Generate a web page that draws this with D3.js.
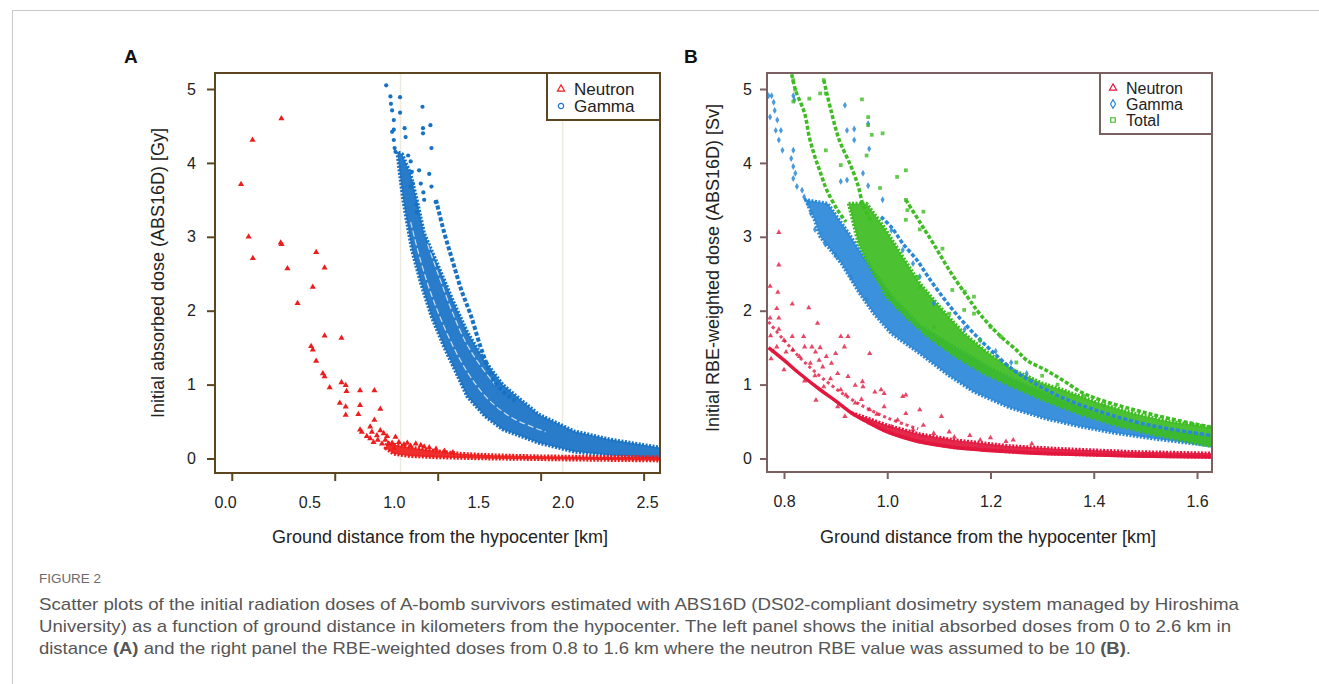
<!DOCTYPE html>
<html>
<head>
<meta charset="utf-8">
<script src="https://cdn.jsdelivr.net/npm/d3@7"></script>
<style>
  body { margin: 0; background: #fff; }
  svg { display: block; }
  text { font-family: "Liberation Sans", Arial, sans-serif; }
</style>
</head>
<body>
<svg id="fig" width="1319" height="684"></svg>
<script>
// ---------- panel A data (ground distance km, dose Gy) ----------
var aXLabels = [0, 0.5, 1.0, 1.5, 2.0, 2.5];
var aXTickMarks = [0.04, 0.65, 1.26, 1.87, 2.48];   // the figure's tick marks sit off its labels
var aGrid = [1.04, 2.0];
var yTicks = [0, 1, 2, 3, 4, 5];

var aNeutronPts = [
  [0.095,3.71],[0.163,4.31],[0.334,4.6],[0.14,3.0],[0.165,2.71],[0.33,2.92],[0.335,2.9],
  [0.37,2.57],[0.43,2.1],[0.52,2.32],[0.54,2.79],[0.59,2.58],[0.51,1.52],[0.52,1.47],
  [0.54,1.32],[0.59,1.66],[0.69,1.63],[0.58,1.15],[0.59,1.11],[0.62,0.96],[0.69,1.03],
  [0.715,0.99],[0.72,0.91],[0.80,0.92],[0.885,0.92],[0.68,0.75],[0.715,0.70],[0.80,0.72],
  [0.92,0.67],[0.715,0.59],[0.79,0.60],[0.885,0.52],[0.80,0.39],[0.81,0.36],[0.86,0.43],
  [0.86,0.27],[0.905,0.25],[0.94,0.34],[0.95,0.25],[0.99,0.21],[1.01,0.29],[1.0,0.14],
  [0.87,0.36],[0.9,0.31],[0.92,0.38],[0.96,0.3],[0.97,0.2],[1.03,0.22],[1.06,0.19],
  [1.1,0.17],[1.13,0.2],[1.18,0.16],[1.25,0.13],[0.84,0.3],[0.88,0.22],[0.93,0.2],
  [1.08,0.21],[1.16,0.18],[1.21,0.15],[1.3,0.1],[1.35,0.08]
];
var aNeutronBand = [
  [0.95,0.14],[1.0,0.06],[1.1,0.03],[1.25,0.015],[1.5,0.0],[2.0,-0.015],[2.6,-0.03],
  [2.6,0.02],[2.2,0.025],[1.9,0.03],[1.6,0.045],[1.4,0.065],[1.3,0.09],[1.2,0.12],
  [1.1,0.15],[1.0,0.19],[0.96,0.22]
];
var aGammaPts = [
  [0.955,5.05],[0.98,4.9],[1.037,4.89],[0.983,4.8],[0.99,4.71],[1.037,4.68],[1.0,4.58],
  [1.064,4.47],[1.0,4.45],[1.07,4.35],[1.0,4.31],[1.17,4.76],[1.217,4.51],[1.173,4.47],
  [1.173,4.4],[1.223,4.2],[1.21,3.85],[1.16,3.72],[1.223,3.68],[1.248,3.47],[1.134,3.44],
  [1.137,3.33],[1.085,4.1],[1.1,4.02],[1.107,3.88],[1.113,3.72],[1.1,3.68],[1.005,4.2],
  [1.01,4.15],[0.99,4.42],[1.175,3.6],[1.15,3.9],[1.18,3.5]
];
var aGammaBand = [
  [1.02,4.15],[1.035,3.85],[1.055,3.5],[1.075,3.23],[1.107,2.82],[1.16,2.37],[1.223,1.92],
  [1.297,1.51],[1.371,1.15],[1.434,0.84],[1.54,0.57],[1.646,0.39],[1.858,0.21],[2.07,0.09],
  [2.28,0.04],[2.6,0.0],
  [2.6,0.14],[2.28,0.26],[2.07,0.37],[1.858,0.6],[1.75,0.8],[1.646,1.0],[1.54,1.32],
  [1.434,1.72],[1.35,2.14],[1.265,2.6],[1.18,3.05],[1.137,3.5],[1.1,3.85],[1.05,4.12]
];
var aGammaStrand = [
  [1.25,3.5],[1.297,3.07],[1.35,2.66],[1.40,2.28],[1.456,1.94],[1.52,1.47],[1.594,1.06],
  [1.65,0.9],[1.72,0.78]
];
var aGammaGaps = [
  [[1.1,3.2],[1.15,2.75],[1.21,2.3],[1.28,1.88],[1.36,1.48],[1.45,1.12],[1.56,0.8],[1.7,0.55],[1.9,0.36]],
  [[1.2,2.9],[1.27,2.45],[1.34,2.02],[1.42,1.6],[1.5,1.3],[1.6,1.0]]
];

// ---------- panel B data (ground distance km, RBE-weighted dose Sv) ----------
var bXLabels = [0.8, 1.0, 1.2, 1.4, 1.6];

var bNeutronPts = [
  [0.79,3.06],[0.79,2.62],[0.773,2.33],[0.788,2.25],[0.786,2.03],[0.816,2.09],[0.848,2.04],
  [0.79,1.9],[0.773,1.9],[0.774,1.66],[0.786,1.51],[0.804,1.44],[0.816,1.65],[0.817,1.47],
  [0.838,1.65],[0.865,1.83],[0.84,1.51],[0.854,1.51],[0.861,1.44],[0.851,1.29],[0.868,1.33],
  [0.882,1.38],[0.875,1.24],[0.892,1.29],[0.91,1.65],[0.924,1.65],[0.917,1.51],[0.904,1.15],
  [0.924,1.11],[0.938,0.99],[0.952,1.04],[0.966,1.42],[0.976,0.9],[0.994,0.88],[1.036,0.86],
  [0.877,0.97],[0.91,0.93],[0.953,0.97],[0.988,0.93],[1.03,0.84],[0.862,0.79],[0.904,0.70],
  [0.938,0.75],[0.966,0.66],[0.994,0.70],[1.036,0.61],[1.063,0.66],[1.105,0.57],[0.918,0.57],
  [0.966,0.48],[1.008,0.43],[1.05,0.39],[1.09,0.34],[1.13,0.29],[1.18,0.25],[1.23,0.23],
  [1.244,0.25],[0.78,1.45],[0.775,1.35],[0.8,1.6],[0.83,1.38],[0.86,1.12],[0.89,1.08],
  [0.92,0.86],[0.95,0.8],[0.98,0.6],[1.02,0.52],[1.07,0.45],[1.12,0.36],[1.16,0.31],
  [1.2,0.28],[1.28,0.2],[0.79,1.75],[0.8,1.2],[0.84,1.05],[0.87,1.5],[0.9,1.42]
];
var bNeutronSolid = [
  [0.77,1.5],[0.80,1.33],[0.83,1.15],[0.87,0.93],[0.9,0.78],[0.93,0.62],[0.96,0.5],
  [1.0,0.36],[1.06,0.23],[1.13,0.15],[1.24,0.09],[1.34,0.06],[1.48,0.035],[1.63,0.02]
];
var bNeutronMid = [
  [0.77,1.85],[0.80,1.6],[0.84,1.3],[0.89,1.0],[0.94,0.76],[1.0,0.55],[1.06,0.4]
];
var bNeutronBand = [
  [0.93,0.62],[0.96,0.5],[1.0,0.36],[1.06,0.23],[1.13,0.15],[1.24,0.09],[1.34,0.06],
  [1.48,0.035],[1.63,0.02],
  [1.63,0.07],[1.48,0.09],[1.34,0.13],[1.236,0.17],[1.13,0.25],[1.063,0.33],[1.0,0.45],
  [0.96,0.55]
];
var bGammaPts = [
  [0.77,4.91],[0.776,4.91],[0.78,4.82],[0.782,4.71],[0.773,4.62],[0.787,4.58],[0.784,4.44],
  [0.794,4.44],[0.79,4.31],[0.797,4.17],[0.818,4.17],[0.814,4.06],[0.818,3.95],[0.822,3.86],
  [0.818,3.79],[0.825,3.68],[0.835,3.63],[0.839,3.54],[0.846,3.45],[0.852,3.32],[0.818,4.91],
  [0.82,4.85],[0.918,4.78],[0.922,4.44],[0.936,4.46],[0.936,4.31],[0.963,4.53],[0.965,4.19],
  [0.953,3.86],[0.963,3.69],[0.991,3.5],[0.91,3.75],[0.922,3.77],[1.008,3.09],[1.03,2.82],
  [1.05,2.64],[1.063,2.46],[1.09,2.1],[1.15,1.75],[1.18,1.6],[1.21,1.45],[1.24,1.3],
  [1.27,1.15],[0.86,3.1],[0.88,2.9],[0.9,2.75],[0.93,2.45],[0.96,2.15]
];
var bGammaBand = [
  [0.842,3.5],[0.859,3.23],[0.87,3.0],[0.911,2.64],[0.946,2.24],[0.974,1.96],
  [1.008,1.69],[1.063,1.42],[1.12,1.12],[1.168,0.9],[1.236,0.69],[1.306,0.54],[1.375,0.43],
  [1.444,0.34],[1.513,0.27],[1.63,0.17],
  [1.63,0.3],[1.547,0.38],[1.478,0.47],[1.41,0.6],[1.34,0.78],[1.27,0.99],[1.2,1.22],
  [1.133,1.5],[1.063,1.8],[1.008,2.2],[0.966,2.6],[0.925,3.05],[0.885,3.45]
];
var bGammaStrand = [
  [0.988,3.27],[1.008,3.13],[1.03,2.91],[1.058,2.68],[1.079,2.46],[1.107,2.19],[1.133,1.96],
  [1.168,1.69],[1.2,1.47],[1.244,1.2],[1.285,1.02],[1.34,0.82],[1.41,0.64],[1.478,0.5],
  [1.547,0.4],[1.63,0.31]
];
var bTotalPts = [
  [0.818,5.12],[0.822,4.99],[0.849,4.87],[0.818,4.83],[0.877,5.12],[0.87,4.94],[0.881,4.94],
  [0.951,4.86],[0.963,4.62],[0.963,4.51],[0.991,4.4],[1.019,3.81],[1.036,3.9],[1.036,3.5],
  [1.039,3.36],[1.07,3.34],[0.986,3.66],[0.91,3.97],[0.881,4.17],[1.058,2.46],[1.063,2.32],
  [1.15,2.26],[1.149,2.01],[1.168,1.96],[1.12,1.96],[1.09,1.78],[1.2,1.78],[1.22,1.65],
  [1.18,1.6],[1.168,2.19],[1.126,2.28],[1.107,2.84],[1.063,3.1],[1.036,3.23],[0.97,4.38],
  [0.96,4.1],[1.25,1.3],[1.3,1.12],[1.33,1.0],[1.38,0.85],[1.42,0.72]
];
var bTotalBand = [
  [0.925,3.45],[0.944,2.91],[0.966,2.6],[0.999,2.19],[1.036,1.92],[1.079,1.65],
  [1.133,1.38],[1.188,1.15],[1.244,0.97],[1.306,0.78],[1.375,0.6],[1.444,0.45],[1.513,0.33],
  [1.63,0.16],
  [1.63,0.42],[1.547,0.5],[1.478,0.61],[1.41,0.75],[1.34,0.93],[1.3,1.02],[1.244,1.2],
  [1.197,1.42],[1.149,1.69],[1.107,2.01],[1.063,2.37],[1.03,2.73],[0.994,3.13],[0.96,3.45]
];
var bTotalStrands = [
  [[0.815,5.2],[0.822,4.99],[0.84,4.67],[0.849,4.35],[0.859,4.1],[0.87,3.88],[0.883,3.63],
   [0.904,3.36],[0.92,3.2]],
  [[0.877,5.12],[0.891,4.71],[0.907,4.31],[0.93,3.95],[0.944,3.68],[0.954,3.41],[0.97,3.2]],
  [[1.036,3.5],[1.063,3.2],[1.09,2.9],[1.12,2.55],[1.154,2.2],[1.18,1.95],[1.22,1.65],
   [1.25,1.47],[1.27,1.33],[1.306,1.2],[1.34,1.06],[1.375,0.9],[1.41,0.8],[1.478,0.66],
   [1.547,0.54],[1.63,0.42]]
];

var captionLines = [
  "Scatter plots of the initial radiation doses of A-bomb survivors estimated with ABS16D (DS02-compliant dosimetry system managed by Hiroshima",
  "University) as a function of ground distance in kilometers from the hypocenter. The left panel shows the initial absorbed doses from 0 to 2.6 km in"
];

// ---------- drawing ----------
var svg = d3.select("#fig");
var TEXT = "#222";

// top and left rules of the figure box
svg.append("line").attr("x1", 12.5).attr("x2", 1319).attr("y1", 10.5).attr("y2", 10.5)
   .attr("stroke", "#c8c8c8");
svg.append("line").attr("x1", 12.5).attr("x2", 12.5).attr("y1", 10.5).attr("y2", 684)
   .attr("stroke", "#c8c8c8");

function makePanel(p) {
    var f = p.frame;
    var x = d3.scaleLinear().domain(p.xDomain).range(p.xRange);
    var y = d3.scaleLinear().domain([0, 5]).range([458.5, 89]);
    var g = svg.append("g");
    g.append("clipPath").attr("id", p.id + "clip").append("rect")
        .attr("x", f.left).attr("y", f.top)
        .attr("width", f.right - f.left).attr("height", f.bottom - f.top);
    var plot = g.append("g").attr("clip-path", "url(#" + p.id + "clip)");

    var ring = d3.line().curve(d3.curveLinearClosed)
        .x(function(d) { return x(d[0]); }).y(function(d) { return y(d[1]); });
    var path = d3.line().curve(d3.curveCatmullRom.alpha(0.5))
        .x(function(d) { return x(d[0]); }).y(function(d) { return y(d[1]); });

    return {
        g: g, plot: plot, x: x, y: y, frame: f, color: p.color,
        band: function(data, color) {
            // dense part of a series: filled, with a broken edge so it reads as dots
            plot.append("path").attr("d", ring(data))
                .attr("fill", color).attr("fill-opacity", 0.92)
                .attr("stroke", color).attr("stroke-width", 3.5)
                .attr("stroke-dasharray", "2 1.5").attr("stroke-linejoin", "round");
        },
        strand: function(data, color, width, dash, opacity) {
            plot.append("path").attr("d", path(data))
                .attr("fill", "none").attr("stroke", color).attr("stroke-opacity", opacity || 1)
                .attr("stroke-width", width).attr("stroke-dasharray", dash || null);
        },
        points: function(data, color, type, size, opacity) {
            plot.append("g").selectAll("path").data(data).join("path")
                .attr("transform", function(d) { return "translate(" + x(d[0]) + "," + y(d[1]) + ")"; })
                .attr("d", d3.symbol().type(type).size(size))
                .attr("fill", color).attr("fill-opacity", opacity || 1);
        }
    };
}

function finishPanel(P, opt) {
    var f = P.frame, g = P.g;
    if (opt.grid) {
        P.plot.insert("g", ":first-child").selectAll("line").data(opt.grid).join("line")
            .attr("x1", function(d) { return P.x(d); }).attr("x2", function(d) { return P.x(d); })
            .attr("y1", f.top).attr("y2", f.bottom)
            .attr("stroke", "#ecebdd").attr("stroke-width", 1.5);
    }
    g.append("rect").attr("x", f.left).attr("y", f.top)
        .attr("width", f.right - f.left).attr("height", f.bottom - f.top)
        .attr("fill", "none").attr("stroke", P.color).attr("stroke-width", 2);

    var xTicks = g.append("g").attr("transform", "translate(0," + f.bottom + ")")
        .call(d3.axisBottom(P.x).tickValues(opt.xTickMarks).tickSize(opt.tick).tickFormat(""));
    var xLab = g.append("g").attr("transform", "translate(0," + f.bottom + ")")
        .call(d3.axisBottom(P.x).tickValues(opt.xLabels).tickSize(0).tickPadding(24)
              .tickFormat(d3.format(".1f")));
    var yAx = g.append("g").attr("transform", "translate(" + f.left + ",0)")
        .call(d3.axisLeft(P.y).tickValues(yTicks).tickSize(opt.tick).tickPadding(opt.yPad)
              .tickFormat(d3.format("d")));
    [xTicks, xLab, yAx].forEach(function(a) {
        a.select(".domain").remove();
        a.selectAll(".tick line").attr("stroke", P.color).attr("stroke-width", 2);
        a.selectAll("text").attr("font-size", 16).attr("fill", TEXT)
            .attr("font-family", "Liberation Sans, Arial, sans-serif");
    });
    xLab.selectAll(".tick line").remove();

    g.append("text").attr("x", opt.titleX).attr("y", 543).attr("text-anchor", "middle")
        .attr("font-size", 18).attr("fill", TEXT).text(opt.xTitle);
    g.append("text").attr("transform", "translate(" + opt.yTitlePos[0] + "," + opt.yTitlePos[1] + ") rotate(-90)")
        .attr("text-anchor", "middle").attr("font-size", 18).attr("fill", TEXT).text(opt.yTitle);
    g.append("text").attr("x", opt.letterX).attr("y", 63).attr("font-size", 19)
        .attr("font-weight", "bold").attr("fill", "#111").text(opt.letter);

    // legend box hugging the top-right corner of the frame
    var L = opt.legend;
    g.append("rect").attr("x", L.left).attr("y", f.top)
        .attr("width", f.right - L.left).attr("height", L.bottom - f.top)
        .attr("fill", "#fff").attr("stroke", P.color).attr("stroke-width", 2);
    var items = g.append("g").selectAll("g").data(L.items).join("g")
        .attr("transform", function(d, i) { return "translate(" + L.symX + "," + (L.y0 + i * L.dy) + ")"; });
    items.append("path")
        .attr("d", function(d) { return d3.symbol().type(d.type).size(d.size)(); })
        .attr("fill", "none").attr("stroke", function(d) { return d.color; }).attr("stroke-width", 1.2);
    items.append("text").attr("x", L.textX - L.symX).attr("y", 6)
        .attr("font-size", L.font).attr("fill", TEXT).text(function(d) { return d.name; });
}

// ----- panel A -----
var A = makePanel({ id: "a", frame: {left: 215, right: 660, top: 73, bottom: 473},
    xDomain: [0, 2.5], xRange: [225, 647], color: "#5d4520" });
A.band(aGammaBand, "#1771c4");
aGammaGaps.forEach(function(s) { A.strand(s, "#ffffff", 1.2, "6 3", 0.75); });
A.strand(aGammaStrand, "#1771c4", 4, "4 2");
A.points(aGammaPts, "#1771c4", d3.symbolCircle, 14);
A.band(aNeutronBand, "#ee1c1c");
A.points(aNeutronPts, "#ee1c1c", d3.symbolTriangle, 16);
finishPanel(A, {
    grid: aGrid, xTickMarks: aXTickMarks, xLabels: aXLabels, tick: 8, yPad: 11,
    xTitle: "Ground distance from the hypocenter [km]", titleX: 440,
    yTitle: "Initial absorbed dose (ABS16D) [Gy]", yTitlePos: [164, 273],
    letter: "A", letterX: 124,
    legend: { left: 547, bottom: 120, symX: 561, textX: 574, y0: 89, dy: 17, font: 17,
        items: [ {name: "Neutron", color: "#ee1c1c", type: d3.symbolTriangle, size: 22},
                 {name: "Gamma", color: "#1771c4", type: d3.symbolCircle, size: 22} ] }
});

// ----- panel B -----
var B = makePanel({ id: "b", frame: {left: 767, right: 1212, top: 73, bottom: 472},
    xDomain: [0.8, 1.6], xRange: [784, 1197], color: "#7a6060" });
B.band(bNeutronBand, "#e3173e");
B.strand(bNeutronSolid, "#e3173e", 3.5);
B.strand(bNeutronMid, "#e3173e", 3, "3 3", 0.8);
B.points(bNeutronPts, "#e3173e", d3.symbolTriangle, 12, 0.8);
B.band(bGammaBand, "#2a88d8");
B.band(bTotalBand, "#3dbd22");
B.strand(bGammaStrand, "#2a88d8", 3.5, "4 2");
B.points(bGammaPts, "#2a88d8", d3.symbolDiamond, 14, 0.85);
bTotalStrands.forEach(function(s) { B.strand(s, "#3dbd22", 3.5, "4 2"); });
B.points(bTotalPts, "#3dbd22", d3.symbolSquare, 14, 0.8);
finishPanel(B, {
    xTickMarks: bXLabels, xLabels: bXLabels, tick: 7, yPad: 8,
    xTitle: "Ground distance from the hypocenter [km]", titleX: 988,
    yTitle: "Initial RBE-weighted dose (ABS16D) [Sv]", yTitlePos: [719, 268],
    letter: "B", letterX: 684,
    legend: { left: 1100, bottom: 134, symX: 1113, textX: 1126, y0: 88, dy: 16, font: 16,
        items: [ {name: "Neutron", color: "#e3173e", type: d3.symbolTriangle, size: 22},
                 {name: "Gamma", color: "#2a88d8", type: d3.symbolDiamond, size: 22},
                 {name: "Total", color: "#3dbd22", type: d3.symbolSquare, size: 20} ] }
});

// ----- caption -----
var cap = svg.append("g").attr("font-family", "Open Sans, sans-serif").attr("fill", "#555");
cap.append("text").attr("x", 39).attr("y", 583).attr("font-size", 13).attr("fill", "#6b6b6b")
    .attr("textLength", 62).attr("lengthAdjust", "spacingAndGlyphs").text("FIGURE 2");
captionLines.forEach(function(t, i) {
    cap.append("text").attr("x", 39).attr("y", 610 + i * 22).attr("font-size", 17)
        .attr("textLength", i === 0 ? 1200 : 1192).attr("lengthAdjust", "spacingAndGlyphs").text(t);
});
var l3 = cap.append("text").attr("x", 39).attr("y", 654).attr("font-size", 17)
    .attr("textLength", 1092).attr("lengthAdjust", "spacingAndGlyphs");
l3.append("tspan").text("distance ");
l3.append("tspan").attr("font-weight", "bold").text("(A)");
l3.append("tspan").text(" and the right panel the RBE-weighted doses from 0.8 to 1.6 km where the neutron RBE value was assumed to be 10 ");
l3.append("tspan").attr("font-weight", "bold").text("(B)");
l3.append("tspan").text(".");
</script>
</body>
</html>
